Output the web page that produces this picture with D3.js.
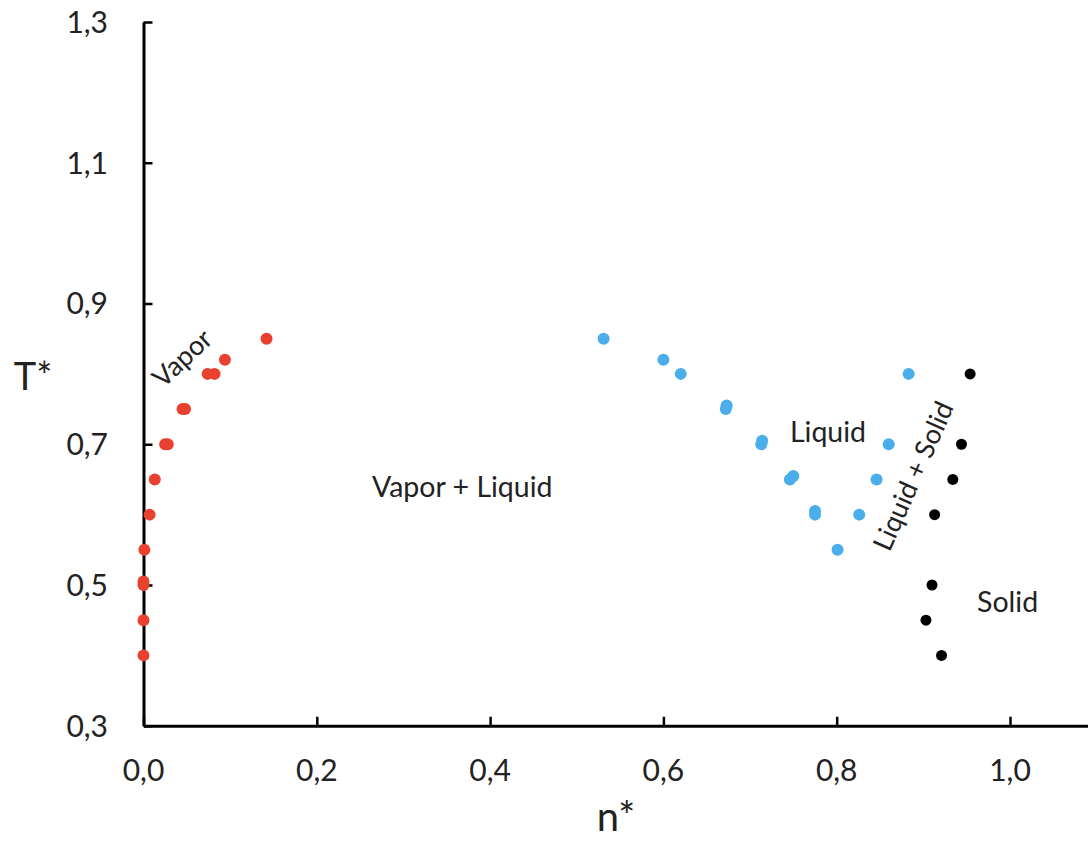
<!DOCTYPE html>
<html>
<head>
<meta charset="utf-8">
<script src="https://cdn.jsdelivr.net/npm/d3@7"></script>
<style>
  html, body { margin: 0; padding: 0; background: #fff; }
  svg { display: block; }
  text { font-family: Lato, "Open Sans", sans-serif; fill: #222; }
</style>
</head>
<body>
<svg id="chart" width="1088" height="841"></svg>
<script>
// Phase diagram: reduced density n* vs reduced temperature T*
const vaporN  = [0.000, 0.000, 0.000, 0.000, 0.001, 0.007, 0.013, 0.025, 0.028, 0.045, 0.048, 0.074, 0.082, 0.094, 0.142];
const vaporT  = [0.40, 0.45, 0.50, 0.505, 0.55, 0.60, 0.65, 0.70, 0.70, 0.75, 0.75, 0.80, 0.80, 0.82, 0.85];

const liquidN = [0.531, 0.600, 0.620, 0.672, 0.673, 0.713, 0.714, 0.746, 0.750, 0.775, 0.775, 0.801, 0.826, 0.846, 0.860, 0.883];
const liquidT = [0.85, 0.82, 0.80, 0.75, 0.755, 0.70, 0.705, 0.65, 0.655, 0.60, 0.605, 0.55, 0.60, 0.65, 0.70, 0.80];

const solidN  = [0.954, 0.944, 0.934, 0.913, 0.910, 0.903, 0.921];
const solidT  = [0.80, 0.70, 0.65, 0.60, 0.50, 0.45, 0.40];

const xTicks = [0.0, 0.2, 0.4, 0.6, 0.8, 1.0];
const yTicks = [0.3, 0.5, 0.7, 0.9, 1.1, 1.3];

// Region names: rotated ones are centred on (n, t), horizontal ones start at n with baseline at t
const regionLabels = [
  { text: "Vapor",          n: 0.0444, t: 0.8226, angle: -43, size: 27 },
  { text: "Vapor + Liquid", n: 0.2637, t: 0.625,  angle: 0,   size: 28.5 },
  { text: "Liquid",         n: 0.746,  t: 0.703,  angle: 0,   size: 28.5 },
  { text: "Liquid + Solid", n: 0.888,  t: 0.655,  angle: -66, size: 27 },
  { text: "Solid",          n: 0.962,  t: 0.4616, angle: 0,   size: 28.5 }
];

const svg = d3.select("#chart");
const x0 = 143.5, y0 = 725.75;
const x = d3.scaleLinear().domain([0, 1.1]).range([x0, x0 + 1.1 * 866.5]);
const y = d3.scaleLinear().domain([0.3, 1.3]).range([y0, y0 - 703.75]);

const locale = d3.formatLocale({ decimal: ",", thousands: ".", grouping: [3], currency: ["", ""] });
const fmt = locale.format(".1f");

// x axis
const xAxis = svg.append("g")
  .attr("transform", `translate(0,${y0})`)
  .call(d3.axisBottom(x).tickValues(xTicks).tickSize(-9).tickSizeOuter(0).tickPadding(0).tickFormat(() => ""));
xAxis.select(".domain").attr("stroke", "#000").attr("stroke-width", 3);
xAxis.selectAll(".tick line").attr("stroke", "#000").attr("stroke-width", 2.5);

svg.append("g").selectAll("text").data(xTicks).join("text")
  .attr("x", d => x(d)).attr("y", y0 + 55)
  .attr("text-anchor", "middle")
  .style("font-size", "30px")
  .text(d => fmt(d));

// y axis
const yAxis = svg.append("g")
  .attr("transform", `translate(${x0},0)`)
  .call(d3.axisLeft(y).tickValues(yTicks).tickSize(-9).tickSizeOuter(0).tickFormat(() => ""));
yAxis.select(".domain").attr("stroke", "#000").attr("stroke-width", 3);
yAxis.selectAll(".tick line").attr("stroke", "#000").attr("stroke-width", 2.5);

svg.append("g").selectAll("text").data(yTicks).join("text")
  .attr("x", 108).attr("y", d => y(d))
  .attr("text-anchor", "end")
  .attr("dy", "0.36em")
  .style("font-size", "30px")
  .text(d => fmt(d));

// axis titles
svg.append("text").attr("x", 33).attr("y", 390)
  .attr("text-anchor", "middle").style("font-size", "38px").text("T*");
svg.append("text").attr("x", 616).attr("y", 831)
  .attr("text-anchor", "middle").style("font-size", "40px").text("n*");

// data points
function drawSeries(ns, ts, color, r) {
  svg.append("g").selectAll("circle").data(ns.map((n, i) => [n, ts[i]])).join("circle")
    .attr("cx", d => x(d[0])).attr("cy", d => y(d[1]))
    .attr("r", r).attr("fill", color);
}
drawSeries(vaporN, vaporT, "#e9402f", 6);
drawSeries(liquidN, liquidT, "#4aaeea", 6);
drawSeries(solidN, solidT, "#000000", 5.5);

// region labels
svg.append("g").selectAll("text").data(regionLabels).join("text")
  .attr("transform", d => `translate(${x(d.n)},${y(d.t)}) rotate(${d.angle})`)
  .attr("text-anchor", d => d.angle ? "middle" : "start")
  .attr("dy", d => d.angle ? "0.36em" : 0)
  .style("font-size", d => d.size + "px")
  .text(d => d.text);
</script>
</body>
</html>
